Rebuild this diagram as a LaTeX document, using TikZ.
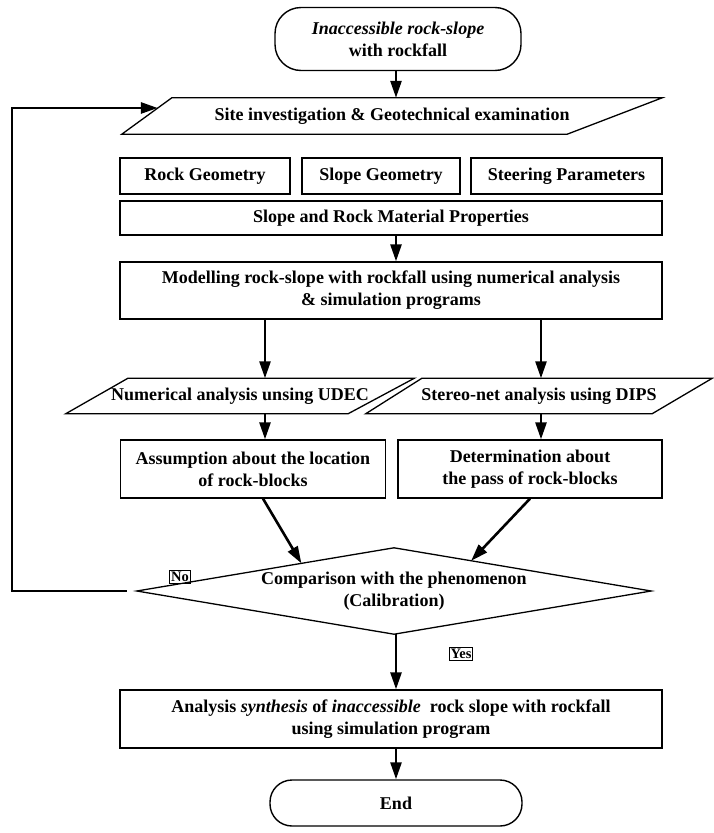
\documentclass[tikz,border=0pt]{standalone}
\usepackage{fontspec}
\setmainfont{Liberation Serif}
\usetikzlibrary{arrows.meta,calc}
\begin{document}
\begin{tikzpicture}[x=1pt,y=-1pt,
  every node/.style={font=\fontsize{18}{22}\selectfont\bfseries, align=center, inner sep=0pt},
  box/.style={draw, line width=1.3pt, rectangle},
  term/.style={draw, line width=1.4pt, rounded corners=26pt},
  shp/.style={draw, line width=1.3pt},
  arr/.style={line width=2.6pt, -{Triangle[length=17pt,width=11pt]}},
  fbline/.style={line width=2.8pt, -{Triangle[length=17pt,width=11pt]}},
  tag/.style={draw, line width=1pt, inner sep=1.2pt, font=\fontsize{14.5}{15}\selectfont\bfseries}
]
\useasboundingbox (0,0) rectangle (714,833);

\node[term, minimum width=246pt, minimum height=63pt] (start) at (398,39) {{\itshape Inaccessible rock-slope}\\with rockfall};

\node[minimum width=540pt, minimum height=36pt] (site) at (392,116) {Site investigation \& Geotechnical examination};
\draw[shp] ([xshift=50pt]site.north west) -- (site.north east) -- ([xshift=-95pt]site.south east) -- (site.south west) -- cycle;

\node[box, minimum width=170pt, minimum height=36pt] (rg) at (205,176) {Rock Geometry};
\node[box, minimum width=158pt, minimum height=36pt] (sg) at (381,176) {Slope Geometry};
\node[box, minimum width=191pt, minimum height=36pt] (sp) at (566.5,176) {Steering Parameters};

\node[box, minimum width=542pt, minimum height=34pt] (sr) at (391,218) {Slope and Rock Material Properties};

\node[box, minimum width=542pt, minimum height=57pt] (model) at (391,290.5) {Modelling rock-slope with rockfall using numerical analysis\\\& simulation programs};

\node[minimum width=348pt, minimum height=35pt] (udec) at (240,396) {Numerical analysis unsing UDEC};
\draw[shp] ([xshift=62pt]udec.north west) -- (udec.north east) -- ([xshift=-66pt]udec.south east) -- (udec.south west) -- cycle;
\node[minimum width=346pt, minimum height=35pt] (dips) at (539,396) {Stereo-net analysis using DIPS};
\draw[shp] ([xshift=56pt]dips.north west) -- (dips.north east) -- ([xshift=-60pt]dips.south east) -- (dips.south west) -- cycle;

\node[box, minimum width=265pt, minimum height=58pt] (assume) at (253,469) {Assumption about the location\\of rock-blocks};
\node[box, minimum width=264pt, minimum height=58pt] (determ) at (530,469) {Determination about\\the pass of rock-blocks};

\node[minimum width=514pt, minimum height=86pt] (cmp) at (394,591) {Comparison with the phenomenon\\(Calibration)};
\draw[shp] (cmp.west) -- (cmp.north) -- (cmp.east) -- (cmp.south) -- cycle;

\node[box, minimum width=542pt, minimum height=58pt] (ana) at (391,719) {Analysis {\itshape synthesis} of {\itshape inaccessible}\ \ rock slope with rockfall\\using simulation program};

\node[term, minimum width=252pt, minimum height=46pt, rounded corners=22pt] (end) at (396,803) {End};

\node[tag] (no) at (180,577) {No};
\node[tag] (yes) at (461,654) {Yes};

\coordinate (cx) at (396,0);
\coordinate (lx) at (265,0);
\coordinate (rx) at (541,0);
\coordinate (fbx) at (12,0);

\draw[arr] (start.south -| cx) -- (site.north -| cx);
\draw[arr] (sr.south -| cx) -- (model.north -| cx);
\draw[arr] (model.south -| lx) -- (udec.north -| lx);
\draw[arr] (model.south -| rx) -- (dips.north -| rx);
\draw[arr] (udec.south -| lx) -- (assume.north -| lx);
\draw[arr] (dips.south -| rx) -- (determ.north -| rx);
\draw[arr] ([xshift=10pt]assume.south) -- ($(cmp.west)!0.64!(cmp.north)$);
\draw[arr] ([xshift=0pt]determ.south) -- ($(cmp.east)!0.70!(cmp.north)$);
\draw[arr] (cmp.south -| cx) -- (ana.north -| cx);
\draw[arr] (ana.south -| cx) -- (end.north -| cx);
\coordinate (fbend) at ($(site.south west)!0.72!([xshift=50pt]site.north west)$);
\draw[fbline] ([xshift=-10pt]cmp.west) -- (cmp.west -| fbx) |- (fbend);
\end{tikzpicture}
\end{document}
